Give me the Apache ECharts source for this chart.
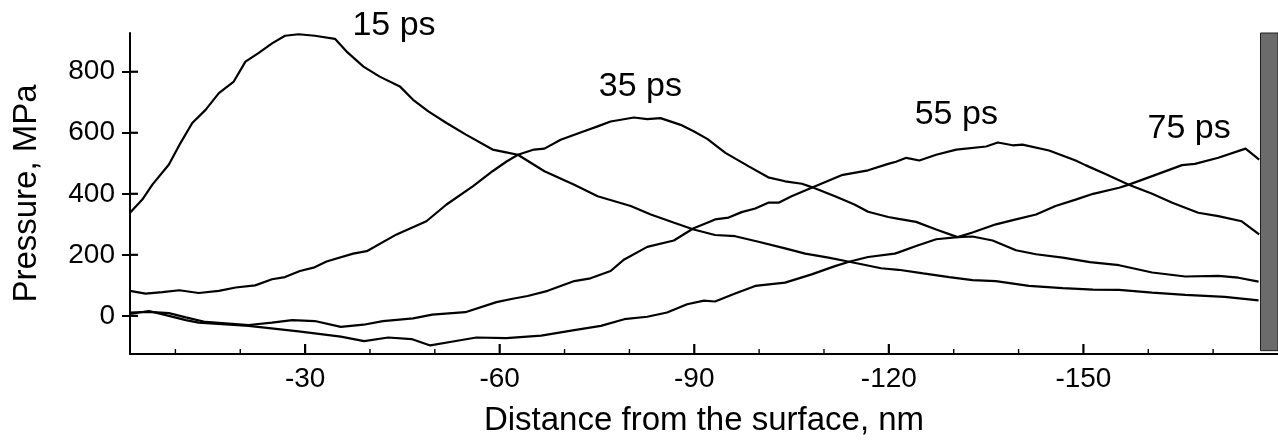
<!DOCTYPE html>
<html>
<head>
<meta charset="utf-8">
<title>Pressure profiles</title>
<script src="https://cdn.jsdelivr.net/npm/echarts@6/dist/echarts.min.js"></script>
<style>
  html, body { margin: 0; padding: 0; background: #fff; }
  #chart { width: 1278px; height: 442px; }
</style>
</head>
<body>
<div id="chart"></div>
<script>
// Pressure profiles (MPa) vs. distance from the surface (nm) at four times.
const dist15 = [-3, -4.9, -6.45, -9.0, -10.8, -12.6, -14.65, -16.7, -19.0, -20.8, -22.8, -24.9, -26.9, -29.0, -31.5, -34.6, -36.4, -39.0, -41.5, -44.6, -46.65, -49.0, -51.8, -54.8, -58.9, -61.0, -62.8, -66.9, -71.5, -75.1, -80.2, -83.3, -86.9, -89.9, -93.2, -96.3, -99.9, -104.0, -107.1, -110.7, -113.7, -115.8, -118.8, -121.5, -125.3, -129.3, -132.9, -136.5, -141.6, -146.8, -151.5, -155.5, -160.6, -165.7, -171.8, -177.0];
const pres15 = [338, 381, 430, 496, 567, 632, 675, 730, 768, 833, 861, 893, 918, 923, 918, 908, 866, 817, 784, 752, 708, 670, 632, 594, 545, 536, 528, 474, 430, 392, 360, 332, 305, 283, 265, 261, 243, 221, 204, 191, 178, 169, 156, 151, 139, 127, 117, 114, 98, 91, 86, 85, 76, 69, 62, 51];

const dist35 = [-3, -5.4, -8.0, -10.6, -13.6, -16.7, -19.3, -22.3, -24.9, -26.9, -29.2, -31.3, -33.3, -37.4, -39.5, -44.1, -48.7, -51.8, -55.9, -58.9, -61.0, -62.8, -65.3, -66.9, -69.4, -73.0, -75.1, -77.1, -80.7, -82.75, -84.8, -87.9, -89.9, -92.0, -94.8, -98.4, -101.4, -104.0, -106.6, -108.1, -111.7, -114.7, -116.8, -119.9, -121.5, -124.2, -127.3, -130.6, -132.9, -136.0, -139.6, -142.7, -146.8, -151.0, -155.5, -160.6, -165.7, -170.8, -173.9, -177.0];
const pres35 = [82, 73, 78, 84, 75, 82, 93, 100, 120, 127, 147, 158, 178, 204, 212, 267, 310, 365, 425, 474, 505, 528, 545, 548, 577, 605, 621, 637, 650, 645, 648, 626, 605, 580, 534, 490, 454, 441, 433, 422, 392, 365, 341, 324, 318, 308, 283, 258, 260, 247, 215, 202, 191, 176, 166, 142, 129, 131, 125, 112];

const dist55 = [-3, -5.9, -9.0, -11.6, -14.65, -21.3, -24.9, -28.0, -31.5, -35.5, -39.0, -42.0, -46.65, -49.6, -54.7, -59.5, -62.0, -64.3, -67.4, -71.5, -74.0, -77.1, -79.2, -82.75, -86.85, -89.9, -92.0, -93.2, -95.3, -97.3, -99.4, -101.4, -103.0, -105.0, -108.1, -112.7, -116.8, -119.9, -121.1, -122.7, -124.7, -127.3, -130.4, -135.0, -136.8, -139.1, -140.6, -144.7, -148.8, -150.3, -153.4, -157.0, -160.6, -163.7, -167.7, -170.8, -174.4, -177.1];
const pres55 = [11, 13, 9, -5, -20, -30, -22, -14, -17, -36, -29, -17, -8, 4, 12, 45, 56, 65, 82, 114, 123, 147, 185, 226, 247, 287, 305, 316, 322, 340, 352, 371, 371, 392, 420, 461, 477, 498, 505, 518, 509, 528, 545, 555, 568, 559, 561, 542, 509, 494, 465, 430, 400, 371, 338, 327, 310, 267];

const dist75 = [-3, -5.9, -9.0, -11.6, -13.6, -21.3, -29.0, -35.5, -39.1, -42.8, -46.4, -49.3, -52.8, -56.4, -61.0, -66.4, -71.5, -75.6, -79.2, -82.75, -85.8, -88.9, -91.5, -93.2, -96.3, -99.4, -104.0, -108.1, -111.7, -114.0, -116.8, -120.9, -121.5, -124.2, -127.3, -130.6, -132.9, -136.5, -139.6, -142.7, -145.7, -148.8, -151.5, -155.5, -157.0, -160.6, -165.2, -167.2, -170.8, -175.0, -177.1];
const pres75 = [6, 16, 0, -14, -22, -33, -51, -68, -83, -71, -76, -97, -84, -71, -73, -65, -47, -33, -11, -3, 11, 38, 50, 47, 73, 98, 109, 136, 163, 178, 193, 204, 208, 229, 251, 258, 273, 300, 316, 332, 360, 381, 400, 420, 430, 458, 494, 498, 518, 548, 512];

const curveNames = ['15 ps', '35 ps', '55 ps', '75 ps'];
const xTickValues = [-30, -60, -90, -120, -150];
const xMinorTickValues = [-10, -20, -40, -50, -70, -80, -100, -110, -130, -140, -160, -170];
const yTickValues = [0, 200, 400, 600, 800];

// Annotation anchors for the curve names, in data units.
const nameAnchors = [[-43.7, 950], [-81.7, 752], [-130.4, 659], [-166.3, 612]];

const zip = (xs, ys) => xs.map((x, i) => [x, ys[i]]);
const curves = [zip(dist15, pres15), zip(dist35, pres35), zip(dist55, pres55), zip(dist75, pres75)];

const FONT = '"Liberation Sans", Arial, Helvetica, sans-serif';
const X_MIN = -180, X_MAX = -3, Y_MIN = -125, Y_MAX = 927;

const chart = echarts.init(document.getElementById('chart'), null, { renderer: 'canvas' });

// Short tick strokes drawn inward from an axis through the grid's scales.
function tickSeries(name, values, onX, len, width) {
  return {
    name: name,
    type: 'custom',
    xAxisIndex: 0,
    yAxisIndex: 0,
    silent: true,
    clip: false,
    z: 6,
    data: values.map(v => onX ? [v, Y_MIN] : [X_MAX, v]),
    renderItem: function (params, api) {
      const p = api.coord([api.value(0), api.value(1)]);
      const shape = onX
        ? { x1: p[0], y1: p[1], x2: p[0], y2: p[1] - len }
        : { x1: p[0], y1: p[1], x2: p[0] + len, y2: p[1] };
      return { type: 'line', shape: shape, style: { stroke: '#000', lineWidth: width } };
    }
  };
}

const lineSeries = curves.map((data, i) => {
  const s = {
    name: curveNames[i],
    type: 'line',
    xAxisIndex: 0,
    yAxisIndex: 0,
    data: data,
    showSymbol: false,
    symbol: 'none',
    smooth: false,
    lineStyle: { color: '#000', width: 2.2 },
    z: 3
  };
  if (i === 0) {
    // the wall at the far end of the profile
    s.markArea = {
      silent: true,
      itemStyle: { color: '#6b6b6b', borderColor: '#1e1e1e', borderWidth: 1 },
      data: [[{ xAxis: -177.3, yAxis: -114 }, { xAxis: X_MIN, yAxis: Y_MAX }]]
    };
  }
  return s;
});

const option = {
  animation: false,
  backgroundColor: '#fff',
  grid: { left: 130, right: -5, top: 33, bottom: 87, containLabel: false },
  xAxis: [
    {
      type: 'value', min: X_MIN, max: X_MAX, inverse: true, position: 'bottom',
      splitLine: { show: false },
      name: 'Distance from the surface, nm',
      nameLocation: 'middle',
      nameGap: 50,
      nameTextStyle: { fontFamily: FONT, fontSize: 33, color: '#000' },
      axisLine: { show: true, onZero: false, lineStyle: { color: '#000', width: 2 } },
      axisTick: { show: false },
      axisLabel: { show: true, customValues: xTickValues, margin: 11, fontFamily: FONT, fontSize: 28, color: '#000' }
    }
  ],
  yAxis: [
    {
      type: 'value', min: Y_MIN, max: Y_MAX, position: 'left',
      splitLine: { show: false },
      name: 'Pressure, MPa',
      nameLocation: 'middle',
      nameGap: 87,
      nameTextStyle: { fontFamily: FONT, fontSize: 33, color: '#000' },
      axisLine: { show: true, onZero: false, lineStyle: { color: '#000', width: 2 } },
      axisTick: { show: true, inside: false, length: 8, customValues: yTickValues, lineStyle: { color: '#000', width: 2 } },
      axisLabel: { show: true, customValues: yTickValues, margin: 15, fontFamily: FONT, fontSize: 28, color: '#000' }
    }
  ],
  series: lineSeries.concat([
    tickSeries('xMajorTicks', xTickValues, true, 10, 2.2),
    tickSeries('xMinorTicks', xMinorTickValues, true, 5, 1.4),
    tickSeries('yInnerTicks', yTickValues, false, 8, 2.2)
  ])
};

chart.setOption(option);

// Curve names placed through the chart's own coordinate system.
const labelGraphics = nameAnchors.map((p, i) => {
  const px = chart.convertToPixel({ xAxisIndex: 0, yAxisIndex: 0 }, p);
  return {
    type: 'text',
    x: px[0],
    y: px[1],
    z: 10,
    style: {
      text: curveNames[i],
      fontFamily: FONT,
      fontSize: 34,
      fill: '#000',
      align: 'center',
      verticalAlign: 'middle'
    }
  };
});
chart.setOption({ graphic: labelGraphics });
</script>
</body>
</html>
